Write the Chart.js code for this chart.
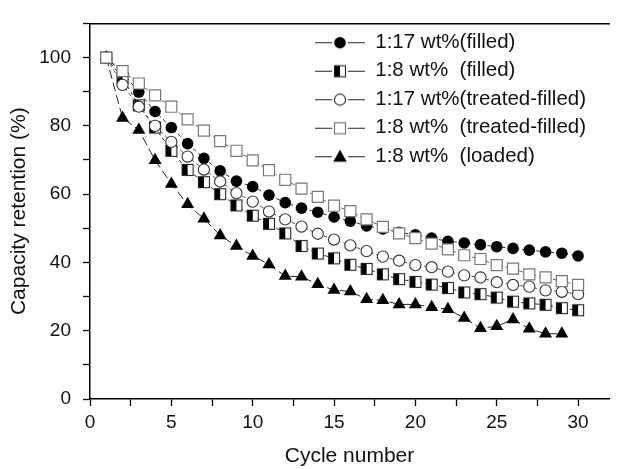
<!DOCTYPE html>
<html>
<head>
<meta charset="utf-8">
<script src="https://cdn.jsdelivr.net/npm/chart.js@4.4.1/dist/chart.umd.min.js"></script>
<style>html,body{margin:0;padding:0;background:#fff}canvas{display:block}</style>
</head>
<body>
<canvas id="c" width="618" height="469"></canvas>
<script>
// ---- data ----
const cycles = [1,2,3,4,5,6,7,8,9,10,11,12,13,14,15,16,17,18,19,20,21,22,23,24,25,26,27,28,29,30];
const filled17 = [100,95.5,89.9,84.2,79.5,74.8,70.5,66.8,63.8,62.2,59.7,57.5,55.9,54.7,53.3,52.1,50.7,49.8,48.8,48.1,47.1,46.2,45.7,45.2,44.6,44.1,43.6,43.1,42.7,41.9];
const filled8 = [100,94,86.0,79.5,72.7,67.1,63.5,60.0,56.7,53.7,51.3,48.5,44.8,42.6,41.2,39.3,38.1,36.5,35.1,34.3,33.5,32.5,31.2,30.7,29.7,28.5,28.0,27.6,26.6,26.0];
const treated17 = [100,92.0,85.6,80.0,75.3,71.0,67.2,63.7,60.3,57.8,54.9,52.6,50.5,48.4,46.7,45.0,43.3,41.7,40.5,39.2,38.6,37.3,36.2,35.6,34.2,33.4,32.9,31.8,31.4,30.7];
const treated8 = [100,96.0,92.4,88.9,85.6,81.9,78.6,75.5,72.7,69.9,67.0,64.2,61.6,59.2,56.6,55.0,52.6,50.4,48.5,47.1,45.5,43.8,42.1,41.0,39.2,38.2,36.5,35.6,34.5,33.4];
const loaded8 = [100,82.3,78.8,69.9,63.0,57.0,52.8,47.9,44.8,41.9,39.4,36.0,35.8,33.6,31.9,31.5,29.2,28.9,27.7,27.7,26.9,26.3,23.7,20.7,21.3,23.3,20.6,19.1,19.1];
const seriesLabels = ['1:17 wt%(filled)','1:8 wt%  (filled)','1:17 wt%(treated-filled)','1:8 wt%  (treated-filled)','1:8 wt%  (loaded)'];
const xTickLabels = [0,5,10,15,20,25,30];
const yTickLabels = [0,20,40,60,80,100];

// ---- marker drawing ----
function mk(w,h,fn){const c=document.createElement('canvas');c.width=w;c.height=h;fn(c.getContext('2d'));return c;}
function drawMarker(ctx,type,cx,cy){
  ctx.save();
  if(type==='fc'){ctx.beginPath();ctx.arc(cx,cy,5.8,0,Math.PI*2);ctx.fillStyle='#000';ctx.fill();}
  else if(type==='oc'){ctx.beginPath();ctx.arc(cx,cy,5.6,0,Math.PI*2);ctx.fillStyle='#fff';ctx.fill();ctx.lineWidth=1.1;ctx.strokeStyle='#333';ctx.stroke();}
  else if(type==='hs'){ctx.fillStyle='#fff';ctx.fillRect(cx-5.5,cy-5.5,11,11);ctx.fillStyle='#000';ctx.fillRect(cx-5.5,cy-5.5,5.5,11);ctx.lineWidth=1.1;ctx.strokeStyle='#222';ctx.strokeRect(cx-5.5,cy-5.5,11,11);}
  else if(type==='os'){ctx.fillStyle='#fff';ctx.fillRect(cx-5.5,cy-5.5,11,11);ctx.lineWidth=1.2;ctx.strokeStyle='#777';ctx.strokeRect(cx-5.5,cy-5.5,11,11);}
  else if(type==='tr'){ctx.beginPath();ctx.moveTo(cx,cy-7.5);ctx.lineTo(cx+6.8,cy+4.5);ctx.lineTo(cx-6.8,cy+4.5);ctx.closePath();ctx.fillStyle='#000';ctx.fill();}
  ctx.restore();
}
const halfSquare = mk(14,14,ctx=>drawMarker(ctx,'hs',7,7));
const legendTypes = ['fc','hs','oc','os','tr'];
const legendImgs = legendTypes.map(t=>mk(50,18,ctx=>{
  ctx.strokeStyle='#222';ctx.lineWidth=1;ctx.beginPath();ctx.moveTo(0,9.5);ctx.lineTo(17,9.5);ctx.moveTo(33,9.5);ctx.lineTo(50,9.5);ctx.stroke();
  drawMarker(ctx,t,25,t==='tr'?10:9.5);
}));

const pts = arr => arr.map((v,i)=>({x:cycles[i],y:v}));

const legendMove = {
  id:'legendMove',
  afterLayout(chart){
    const lg = chart.legend; if(!lg) return;
    lg.left = 307; lg.right = 617; lg.width = 310;
    lg.top = 24; lg.bottom = 224; lg.height = 200;
  }
};

const FONT = '"Liberation Sans", Arial, sans-serif';
new Chart(document.getElementById('c'), {
  type:'line',
  data:{datasets:[
    {label:seriesLabels[0],data:pts(filled17),pointStyle:'circle',pointRadius:5.8,pointBackgroundColor:'#000',pointBorderColor:'#000',pointBorderWidth:0,borderColor:'#333',borderWidth:1,borderDash:[4,3],order:5},
    {label:seriesLabels[1],data:pts(filled8),pointStyle:halfSquare,pointRadius:6,borderColor:'#333',borderWidth:1,borderDash:[4,3],order:4},
    {label:seriesLabels[2],data:pts(treated17),pointStyle:'circle',pointRadius:5.6,pointBackgroundColor:'#fff',pointBorderColor:'#333',pointBorderWidth:1.1,borderColor:'#555',borderWidth:1,borderDash:[4,3],order:3},
    {label:seriesLabels[3],data:pts(treated8),pointStyle:'rect',pointRadius:7.8,pointBackgroundColor:'#fff',pointBorderColor:'#777',pointBorderWidth:1.2,borderColor:'#666',borderWidth:1,borderDash:[4,3],order:1},
    {label:seriesLabels[4],data:pts(loaded8),pointStyle:'triangle',pointRadius:7.5,pointBackgroundColor:'#000',pointBorderColor:'#000',pointBorderWidth:0,borderColor:'#222',borderWidth:1,borderDash:[9,4],order:2}
  ]},
  options:{
    responsive:false,animation:false,
    layout:{padding:{top:12,right:0,left:0,bottom:0}},
    elements:{line:{tension:0,fill:false},point:{hoverRadius:6}},
    plugins:{
      tooltip:{enabled:false},
      legend:{
        position:'chartArea',align:'start',
        labels:{
          usePointStyle:true,pointStyleWidth:50,padding:8,color:'#111',
          font:{family:FONT,size:20.5},
          sort:(a,b)=>a.datasetIndex-b.datasetIndex,
          generateLabels(chart){
            const items = Chart.defaults.plugins.legend.labels.generateLabels(chart);
            items.forEach(it=>{it.pointStyle = legendImgs[it.datasetIndex]; it.text = seriesLabels[it.datasetIndex];});
            return items;
          }
        }
      }
    },
    scales:{
      x:{
        type:'linear',position:'bottom',min:0,max:31.9,
        afterFit(s){s.height=70;},
        border:{display:true,color:'#000',width:1.5},
        grid:{display:true,drawOnChartArea:false,drawTicks:true,tickLength:7,tickColor:'#000',tickWidth:1.3},
        ticks:{stepSize:2.5,autoSkip:false,maxRotation:0,includeBounds:false,padding:5,color:'#111',font:{family:FONT,size:19},
          callback:v=>xTickLabels.includes(v)?String(v):''},
        title:{display:true,text:'Cycle number',color:'#111',font:{family:FONT,size:21},padding:{top:0,bottom:0}}
      },
      x2:{
        type:'linear',position:'top',min:0,max:31.9,
        afterFit(s){s.height=0;},
        border:{display:true,color:'#000',width:1.5},
        grid:{display:false,drawTicks:false},
        ticks:{display:false}
      },
      y:{
        type:'linear',position:'left',min:0,max:110,
        afterFit(s){s.width=90;},
        border:{display:true,color:'#000',width:1.5},
        grid:{display:true,drawOnChartArea:false,drawTicks:true,tickLength:7,tickColor:'#000',tickWidth:1.3},
        ticks:{stepSize:10,autoSkip:false,includeBounds:false,padding:12,color:'#111',font:{family:FONT,size:19},
          callback:v=>yTickLabels.includes(v)?String(v):''},
        title:{display:true,text:'Capacity retention (%)',color:'#111',font:{family:FONT,size:21},padding:{top:7,bottom:0}}
      }
    }
  },
  plugins:[legendMove]
});
</script>
</body>
</html>
